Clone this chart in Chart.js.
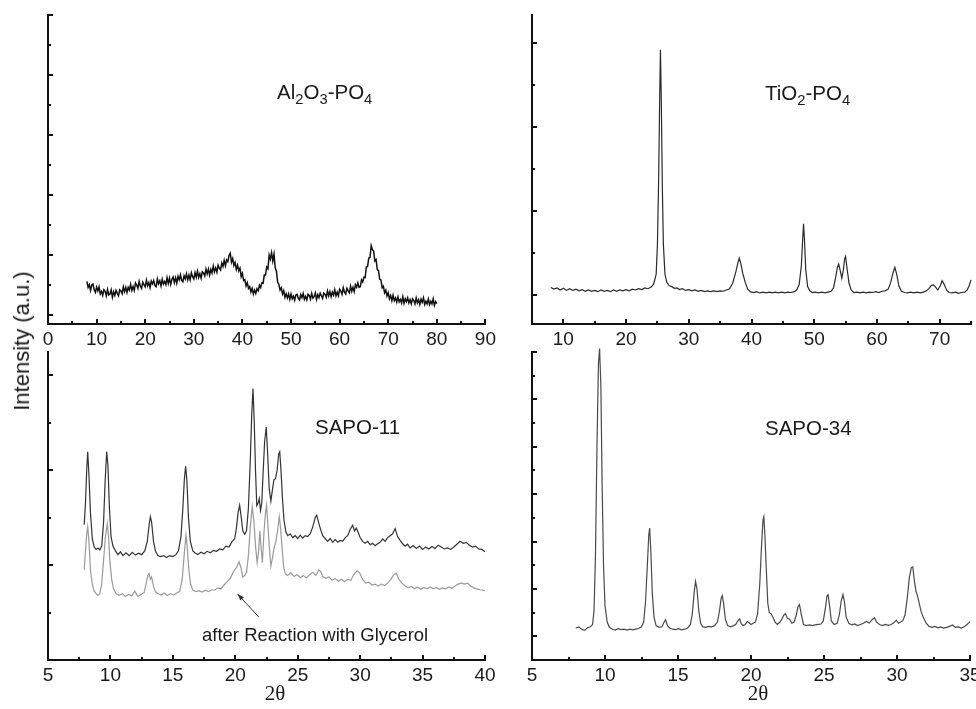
<!DOCTYPE html>
<html>
<head>
<meta charset="utf-8">
<title>XRD patterns</title>
<script src="https://cdn.jsdelivr.net/npm/chart.js@4.4.1/dist/chart.umd.min.js"></script>
<style>
  body { margin: 0; width: 976px; height: 709px; position: relative; overflow: hidden; background: #fff;
         font-family: "Liberation Sans", Arial, sans-serif; color: #1a1a1a; }
  canvas { position: absolute; }
  .lbl { position: absolute; white-space: nowrap; line-height: 1; }
  .lbl sub { font-size: 0.72em; vertical-align: -0.32em; line-height: 0; }
  .big { font-size: 20.5px; }
  .ylab { font-size: 22px; left: 22px; top: 341px; transform: translate(-50%, -50%) rotate(-90deg); }
  .xlab { font-family: "Liberation Serif", "Times New Roman", serif; font-size: 21px; transform: translateX(-50%); }
</style>
</head>
<body>
<canvas id="tl" width="500" height="352" style="left:0;top:0"></canvas>
<canvas id="tr" width="486" height="352" style="left:490px;top:0"></canvas>
<canvas id="bl" width="500" height="369" style="left:0;top:340px"></canvas>
<canvas id="br" width="500" height="369" style="left:490px;top:340px"></canvas>

<div class="lbl big" style="left:277px;top:82px">Al<sub>2</sub>O<sub>3</sub>-PO<sub>4</sub></div>
<div class="lbl big" style="left:765px;top:83px">TiO<sub>2</sub>-PO<sub>4</sub></div>
<div class="lbl big" style="left:315px;top:417px">SAPO-11</div>
<div class="lbl big" style="left:765px;top:418px">SAPO-34</div>
<div class="lbl" style="left:202px;top:626px;font-size:18.5px">after Reaction with Glycerol</div>
<div class="lbl ylab">Intensity (a.u.)</div>
<div class="lbl xlab" style="left:275px;top:683px">2θ</div>
<div class="lbl xlab" style="left:758px;top:683px">2θ</div>

<script>
// 2θ tick labels per panel
const tlTicks = [0, 10, 20, 30, 40, 50, 60, 70, 80, 90];
const trTicks = [10, 20, 30, 40, 50, 60, 70];
const blTicks = [5, 10, 15, 20, 25, 30, 35, 40];
const brTicks = [5, 10, 15, 20, 25, 30, 35];

// Al2O3-PO4  [2θ, intensity]  (noisy, amorphous-looking scan)
const alumPO4 = [
  [8,1.12],[8.25,0.92],[8.5,1.01],[8.75,0.82],[9,1.00],[9.25,1.03],[9.5,0.84],[9.75,0.75],
  [10,0.93],[10.25,0.80],[10.5,0.94],[10.75,0.70],[11,0.79],[11.25,0.65],[11.5,0.84],[11.75,0.79],
  [12,0.64],[12.25,0.85],[12.5,0.67],[12.75,0.70],[13,0.84],[13.25,0.59],[13.5,0.78],[13.75,0.65],
  [14,0.82],[14.25,0.72],[14.5,0.64],[14.75,0.84],[15,0.80],[15.25,0.71],[15.5,0.94],[15.75,0.78],
  [16,0.92],[16.25,0.75],[16.5,0.92],[16.75,0.83],[17,1.02],[17.25,0.82],[17.5,0.95],[17.75,0.82],
  [18,1.07],[18.25,1.00],[18.5,0.89],[18.75,1.12],[19,0.96],[19.25,0.89],[19.5,1.09],[19.75,1.01],
  [20,0.94],[20.25,1.16],[20.5,0.97],[20.75,1.08],[21,0.91],[21.25,1.13],[21.5,1.04],[21.75,1.15],
  [22,0.98],[22.25,0.94],[22.5,1.20],[22.75,1.04],[23,1.14],[23.25,0.97],[23.5,1.19],[23.75,1.03],
  [24,1.12],[24.25,1.01],[24.5,1.24],[24.75,1.05],[25,1.23],[25.25,1.02],[25.5,1.19],[25.75,1.27],
  [26,1.08],[26.25,1.24],[26.5,1.06],[26.75,1.29],[27,1.17],[27.25,1.34],[27.5,1.15],[27.75,1.11],
  [28,1.31],[28.25,1.20],[28.5,1.37],[28.75,1.17],[29,1.33],[29.25,1.17],[29.5,1.41],[29.75,1.28],
  [30,1.20],[30.25,1.41],[30.5,1.26],[30.75,1.46],[31,1.25],[31.25,1.38],[31.5,1.23],[31.75,1.44],
  [32,1.40],[32.25,1.30],[32.5,1.53],[32.75,1.37],[33,1.53],[33.25,1.33],[33.5,1.52],[33.75,1.40],
  [34,1.63],[34.25,1.44],[34.5,1.57],[34.75,1.43],[35,1.66],[35.25,1.56],[35.5,1.50],[35.75,1.73],
  [36,1.62],[36.25,1.82],[36.5,1.64],[36.75,1.84],[37,1.78],[37.25,1.98],[37.5,2.06],[37.75,1.76],
  [38,1.88],[38.25,1.65],[38.5,1.75],[38.75,1.52],[39,1.66],[39.25,1.47],[39.5,1.56],[39.75,1.28],
  [40,1.39],[40.25,1.15],[40.5,1.18],[40.75,0.97],[41,1.08],[41.25,0.89],[41.5,0.95],[41.75,0.77],
  [42,0.89],[42.25,0.70],[42.5,0.83],[42.75,0.72],[43,0.88],[43.25,0.81],[43.5,0.99],[43.75,0.91],
  [44,1.07],[44.25,1.06],[44.5,1.33],[44.75,1.33],[45,1.60],[45.25,1.54],[45.5,2.00],[45.75,1.86],
  [46,2.08],[46.25,1.80],[46.5,2.03],[46.75,1.57],[47,1.46],[47.25,1.10],[47.5,1.02],[47.75,0.83],
  [48,0.91],[48.25,0.70],[48.5,0.81],[48.75,0.59],[49,0.71],[49.25,0.57],[49.5,0.70],[49.75,0.52],
  [50,0.70],[50.25,0.54],[50.5,0.63],[50.75,0.49],[51,0.67],[51.25,0.69],[51.5,0.55],[51.75,0.50],
  [52,0.68],[52.25,0.58],[52.5,0.72],[52.75,0.52],[53,0.62],[53.25,0.50],[53.5,0.69],[53.75,0.65],
  [54,0.53],[54.25,0.72],[54.5,0.56],[54.75,0.61],[55,0.74],[55.25,0.52],[55.5,0.68],[55.75,0.58],
  [56,0.73],[56.25,0.64],[56.5,0.55],[56.75,0.73],[57,0.69],[57.25,0.59],[57.5,0.80],[57.75,0.64],
  [58,0.78],[58.25,0.61],[58.5,0.76],[58.75,0.66],[59,0.84],[59.25,0.64],[59.5,0.76],[59.75,0.64],
  [60,0.86],[60.25,0.80],[60.5,0.69],[60.75,0.91],[61,0.76],[61.25,0.70],[61.5,0.89],[61.75,0.81],
  [62,0.74],[62.25,0.96],[62.5,0.79],[62.75,0.92],[63,0.78],[63.25,1.01],[63.5,0.93],[63.75,1.07],
  [64,0.92],[64.25,0.94],[64.5,1.17],[64.75,1.10],[65,1.26],[65.25,1.25],[65.5,1.60],[65.75,1.62],
  [66,1.90],[66.25,1.92],[66.5,2.31],[66.75,2.18],[67,2.13],[67.25,1.80],[67.5,1.85],[67.75,1.51],
  [68,1.48],[68.25,1.19],[68.5,1.17],[68.75,0.91],[69,0.96],[69.25,0.74],[69.5,0.83],[69.75,0.63],
  [70,0.74],[70.25,0.54],[70.5,0.65],[70.75,0.48],[71,0.66],[71.25,0.48],[71.5,0.57],[71.75,0.43],
  [72,0.60],[72.25,0.44],[72.5,0.52],[72.75,0.40],[73,0.61],[73.25,0.39],[73.5,0.54],[73.75,0.44],
  [74,0.57],[74.25,0.40],[74.5,0.51],[74.75,0.37],[75,0.54],[75.25,0.48],[75.5,0.37],[75.75,0.57],
  [76,0.40],[76.25,0.51],[76.5,0.35],[76.75,0.53],[77,0.42],[77.25,0.57],[77.5,0.35],[77.75,0.46],
  [78,0.37],[78.25,0.53],[78.5,0.35],[78.75,0.46],[79,0.37],[79.25,0.54],[79.5,0.32],[79.75,0.45],
  [80,0.38]
];

// TiO2-PO4
const titPO4 = [
  [8,0.18],[8.5,0.14],[9,0.17],[9.5,0.12],[10,0.16],[10.5,0.11],[11,0.15],[11.5,0.11],[12,0.14],[12.5,0.10],
  [13,0.13],[13.5,0.09],[14,0.12],[14.5,0.09],[15,0.11],[15.5,0.08],[16,0.12],[16.5,0.09],[17,0.11],[17.5,0.08],
  [18,0.12],[18.5,0.09],[19,0.12],[19.5,0.10],[20,0.13],[20.5,0.10],[21,0.14],[21.5,0.12],[22,0.15],[22.5,0.13],
  [23,0.17],[23.5,0.15],[24,0.19],[24.4,0.26],[24.8,0.5],[25,1.2],[25.2,2.8],[25.35,4.6],[25.48,5.84],[25.62,4.6],
  [25.78,2.6],[25.95,1.2],[26.2,0.5],[26.5,0.3],[26.9,0.22],[27.3,0.2],[27.7,0.16],[28.1,0.17],[28.5,0.13],[29,0.15],
  [29.5,0.11],[30,0.13],[30.5,0.10],[31,0.12],[31.5,0.09],[32,0.11],[32.5,0.08],[33,0.10],[33.5,0.08],[34,0.10],
  [34.5,0.08],[35,0.10],[35.5,0.09],[36,0.12],[36.5,0.15],[37,0.28],[37.5,0.55],[37.85,0.78],[38.05,0.88],[38.3,0.75],
  [38.6,0.52],[39,0.3],[39.4,0.14],[39.8,0.08],[40.3,0.06],[40.8,0.08],[41.3,0.05],[41.8,0.07],[42.3,0.05],[42.8,0.07],
  [43.3,0.05],[43.8,0.07],[44.3,0.05],[44.8,0.07],[45.3,0.05],[45.8,0.07],[46.3,0.06],[46.8,0.08],[47.2,0.12],[47.6,0.25],
  [47.95,0.7],[48.15,1.3],[48.3,1.7],[48.45,1.3],[48.65,0.6],[48.95,0.2],[49.3,0.1],[49.7,0.06],[50.2,0.07],[50.7,0.05],
  [51.2,0.07],[51.7,0.05],[52.2,0.07],[52.7,0.09],[53.1,0.18],[53.45,0.45],[53.7,0.66],[53.9,0.74],[54.15,0.58],[54.4,0.4],
  [54.65,0.6],[54.85,0.86],[55.0,0.92],[55.25,0.62],[55.55,0.28],[55.9,0.12],[56.3,0.06],[56.8,0.07],[57.3,0.05],[57.8,0.07],
  [58.3,0.05],[58.8,0.07],[59.3,0.06],[59.8,0.08],[60.3,0.06],[60.8,0.09],[61.3,0.1],[61.8,0.14],[62.2,0.3],[62.55,0.52],
  [62.85,0.66],[63.15,0.5],[63.5,0.22],[63.9,0.09],[64.4,0.06],[64.9,0.05],[65.4,0.07],[65.9,0.05],[66.4,0.07],[66.9,0.05],
  [67.4,0.07],[67.9,0.1],[68.3,0.16],[68.7,0.23],[69,0.24],[69.3,0.2],[69.7,0.12],[70.1,0.22],[70.4,0.34],[70.7,0.26],
  [71.1,0.12],[71.5,0.06],[72,0.05],[72.5,0.07],[73,0.04],[73.5,0.06],[74,0.07],[74.4,0.12],[74.7,0.22],[75,0.36]
];

// SAPO-11 fresh (dark)
const sapo11 = [
  [7.9,2.85],[8.0,3.3],[8.1,4.0],[8.18,4.39],[8.28,3.9],[8.4,3.1],[8.55,2.55],[8.7,2.38],[8.85,2.33],[9.0,2.36],
  [9.15,2.32],[9.3,2.4],[9.45,2.9],[9.58,3.8],[9.7,4.39],[9.8,4.1],[9.92,3.2],[10.05,2.6],[10.2,2.4],[10.4,2.3],
  [10.6,2.22],[10.8,2.28],[11.0,2.2],[11.25,2.26],[11.5,2.2],[11.75,2.27],[12.0,2.21],[12.25,2.25],[12.5,2.22],[12.75,2.3],
  [12.95,2.5],[13.1,2.85],[13.2,3.02],[13.3,2.9],[13.45,2.5],[13.6,2.3],[13.8,2.2],[14.0,2.18],[14.25,2.2],[14.5,2.16],
  [14.75,2.2],[15.0,2.18],[15.25,2.22],[15.45,2.3],[15.65,2.6],[15.8,3.2],[15.92,3.8],[16.02,4.08],[16.12,3.8],[16.25,3.0],
  [16.4,2.5],[16.6,2.3],[16.8,2.25],[17.0,2.22],[17.25,2.27],[17.5,2.24],[17.75,2.29],[18.0,2.26],[18.25,2.31],[18.5,2.29],
  [18.75,2.34],[19.0,2.32],[19.25,2.4],[19.5,2.38],[19.75,2.5],[19.95,2.55],[20.1,2.8],[20.22,3.1],[20.35,3.26],[20.48,3.0],
  [20.6,2.72],[20.75,2.65],[20.9,2.72],[21.05,3.2],[21.2,4.2],[21.32,5.2],[21.42,5.72],[21.52,5.0],[21.62,4.0],[21.72,3.25],
  [21.82,3.3],[21.92,3.4],[22.02,3.15],[22.12,3.3],[22.22,3.9],[22.35,4.6],[22.48,4.91],[22.6,4.3],[22.72,3.6],[22.85,3.35],
  [22.98,3.6],[23.1,3.8],[23.22,3.82],[23.35,4.0],[23.48,4.35],[23.56,4.39],[23.66,4.0],[23.78,3.4],[23.9,2.95],[24.05,2.7],
  [24.2,2.62],[24.4,2.66],[24.6,2.58],[24.8,2.62],[25.0,2.56],[25.2,2.63],[25.4,2.57],[25.6,2.62],[25.8,2.6],[26.0,2.66],
  [26.2,2.8],[26.4,3.0],[26.52,3.05],[26.65,2.92],[26.8,2.78],[27.0,2.62],[27.2,2.56],[27.4,2.5],[27.6,2.56],[27.8,2.48],
  [28.0,2.54],[28.2,2.48],[28.4,2.52],[28.6,2.5],[28.8,2.58],[29.0,2.62],[29.2,2.75],[29.4,2.84],[29.55,2.72],[29.7,2.78],
  [29.85,2.68],[30.0,2.58],[30.2,2.5],[30.4,2.46],[30.6,2.5],[30.8,2.43],[31.0,2.46],[31.2,2.41],[31.4,2.45],[31.6,2.48],
  [31.8,2.55],[32.0,2.5],[32.2,2.58],[32.4,2.62],[32.6,2.66],[32.8,2.77],[33.0,2.6],[33.2,2.52],[33.4,2.45],[33.6,2.4],
  [33.8,2.44],[34.0,2.36],[34.25,2.41],[34.5,2.35],[34.75,2.4],[35.0,2.33],[35.25,2.38],[35.5,2.34],[35.75,2.39],[36.0,2.35],
  [36.25,2.42],[36.5,2.38],[36.75,2.34],[37.0,2.36],[37.25,2.33],[37.5,2.38],[37.75,2.44],[38.0,2.5],[38.25,2.46],[38.5,2.48],
  [38.75,2.42],[39.0,2.38],[39.25,2.4],[39.5,2.34],[39.75,2.33],[40.0,2.28]
];

// SAPO-11 after reaction with glycerol (light)
const sapo11Used = [
  [7.9,1.9],[8.0,2.3],[8.1,2.65],[8.18,2.81],[8.28,2.5],[8.4,1.9],[8.55,1.6],[8.7,1.45],[8.85,1.4],[9.0,1.36],
  [9.15,1.4],[9.3,1.6],[9.45,2.1],[9.6,2.6],[9.75,2.88],[9.85,2.6],[9.95,2.1],[10.1,1.7],[10.25,1.5],[10.45,1.4],
  [10.7,1.36],[10.95,1.4],[11.2,1.34],[11.45,1.38],[11.7,1.35],[11.95,1.45],[12.2,1.34],[12.45,1.38],[12.7,1.42],[12.85,1.6],
  [13.0,1.78],[13.1,1.82],[13.2,1.7],[13.3,1.75],[13.45,1.55],[13.6,1.44],[13.8,1.4],[14.05,1.37],[14.3,1.41],[14.55,1.36],
  [14.8,1.4],[15.05,1.37],[15.3,1.41],[15.55,1.45],[15.75,1.7],[15.9,2.2],[16.05,2.63],[16.15,2.4],[16.28,1.9],[16.42,1.6],
  [16.6,1.47],[16.85,1.44],[17.1,1.46],[17.35,1.43],[17.6,1.47],[17.85,1.44],[18.1,1.48],[18.35,1.47],[18.6,1.52],[18.85,1.5],
  [19.1,1.58],[19.35,1.65],[19.6,1.72],[19.85,1.86],[20.1,1.95],[20.3,2.07],[20.45,1.95],[20.6,1.75],[20.75,1.78],[20.9,1.85],
  [21.05,2.2],[21.2,2.8],[21.36,3.23],[21.5,2.9],[21.62,2.4],[21.75,2.05],[21.87,2.3],[21.97,2.72],[22.07,2.35],[22.17,2.05],
  [22.3,2.7],[22.42,3.1],[22.5,3.26],[22.6,2.9],[22.72,2.4],[22.85,1.98],[22.98,2.15],[23.1,2.35],[23.25,2.5],[23.4,2.75],
  [23.52,3.02],[23.62,2.8],[23.75,2.35],[23.88,1.95],[24.0,1.82],[24.2,1.78],[24.45,1.84],[24.7,1.76],[24.95,1.8],[25.2,1.74],
  [25.45,1.78],[25.7,1.73],[25.95,1.8],[26.2,1.85],[26.45,1.78],[26.7,1.9],[26.85,1.86],[27.0,1.76],[27.25,1.72],[27.5,1.75],
  [27.75,1.68],[28.0,1.72],[28.25,1.66],[28.5,1.7],[28.75,1.65],[29.0,1.7],[29.25,1.68],[29.5,1.8],[29.75,1.88],[29.95,1.84],
  [30.2,1.7],[30.45,1.62],[30.7,1.64],[30.95,1.58],[31.2,1.6],[31.45,1.56],[31.7,1.6],[31.95,1.57],[32.2,1.62],[32.45,1.7],
  [32.7,1.8],[32.9,1.83],[33.1,1.7],[33.35,1.62],[33.6,1.56],[33.85,1.52],[34.1,1.55],[34.35,1.5],[34.6,1.54],[34.85,1.49],
  [35.1,1.53],[35.35,1.5],[35.6,1.54],[35.85,1.5],[36.1,1.53],[36.35,1.49],[36.6,1.52],[36.85,1.5],[37.1,1.54],[37.35,1.51],
  [37.6,1.56],[37.85,1.6],[38.1,1.62],[38.35,1.6],[38.6,1.62],[38.85,1.56],[39.1,1.52],[39.35,1.5],[39.6,1.48],[39.85,1.47],
  [40.0,1.46]
];

// SAPO-34
const sapo34 = [
  [8.0,0.35],[8.2,0.4],[8.4,0.3],[8.6,0.25],[8.8,0.36],[9.0,0.4],[9.15,0.5],[9.25,1.1],[9.35,3.5],[9.45,8.0],
  [9.55,11.5],[9.63,12.15],[9.72,10.5],[9.8,6.5],[9.9,3.0],[10.0,1.3],[10.15,0.6],[10.3,0.38],[10.5,0.3],[10.7,0.26],
  [10.9,0.32],[11.1,0.28],[11.3,0.3],[11.5,0.26],[11.7,0.3],[11.9,0.27],[12.1,0.3],[12.3,0.33],[12.5,0.4],[12.65,0.6],
  [12.78,1.5],[12.9,3.0],[13.0,4.3],[13.06,4.57],[13.14,3.6],[13.24,1.8],[13.36,0.8],[13.5,0.45],[13.7,0.38],[13.9,0.4],
  [14.05,0.6],[14.15,0.7],[14.28,0.45],[14.45,0.34],[14.65,0.3],[14.85,0.28],[15.05,0.32],[15.25,0.27],[15.45,0.3],[15.65,0.34],
  [15.85,0.5],[15.98,0.95],[16.1,1.8],[16.2,2.32],[16.3,2.0],[16.42,1.1],[16.55,0.55],[16.7,0.4],[16.9,0.38],[17.1,0.42],
  [17.3,0.4],[17.5,0.45],[17.7,0.6],[17.85,1.1],[17.95,1.6],[18.03,1.72],[18.12,1.4],[18.25,0.7],[18.4,0.45],[18.6,0.4],
  [18.8,0.45],[18.95,0.5],[19.1,0.65],[19.22,0.73],[19.32,0.55],[19.45,0.45],[19.6,0.5],[19.75,0.62],[19.85,0.58],[20.0,0.5],
  [20.15,0.55],[20.3,0.6],[20.45,0.95],[20.6,2.2],[20.72,3.8],[20.82,4.9],[20.88,5.04],[20.95,4.3],[21.05,2.8],[21.15,1.4],
  [21.25,1.0],[21.38,0.95],[21.5,0.8],[21.65,0.6],[21.8,0.5],[21.95,0.58],[22.1,0.7],[22.25,0.9],[22.35,0.96],[22.5,0.75],
  [22.65,0.72],[22.8,0.55],[22.95,0.6],[23.1,0.9],[23.22,1.25],[23.32,1.34],[23.45,0.9],[23.6,0.5],[23.8,0.45],[24.0,0.48],
  [24.2,0.45],[24.4,0.48],[24.6,0.5],[24.8,0.52],[24.95,0.65],[25.1,1.2],[25.2,1.7],[25.28,1.76],[25.38,1.3],[25.5,0.65],
  [25.7,0.5],[25.9,0.55],[26.05,0.9],[26.18,1.5],[26.3,1.76],[26.4,1.45],[26.52,0.8],[26.7,0.55],[26.9,0.48],[27.1,0.52],
  [27.3,0.45],[27.5,0.5],[27.7,0.55],[27.9,0.63],[28.1,0.56],[28.3,0.7],[28.45,0.78],[28.6,0.6],[28.8,0.5],[29.0,0.45],
  [29.2,0.5],[29.4,0.46],[29.6,0.5],[29.8,0.58],[29.95,0.68],[30.1,0.55],[30.25,0.6],[30.4,0.66],[30.55,0.9],[30.7,1.6],
  [30.85,2.5],[30.98,2.9],[31.08,2.93],[31.18,2.4],[31.3,1.9],[31.4,1.72],[31.5,1.45],[31.65,1.05],[31.8,0.8],[32.0,0.55],
  [32.2,0.42],[32.4,0.38],[32.6,0.42],[32.8,0.36],[33.0,0.4],[33.2,0.35],[33.4,0.38],[33.6,0.42],[33.8,0.48],[34.0,0.38],
  [34.2,0.4],[34.4,0.35],[34.6,0.4],[34.8,0.5],[35.0,0.62]
];

Chart.defaults.font.family = '"Liberation Sans", Arial, sans-serif';
Chart.defaults.color = '#1a1a1a';

// short ticks pointing into the plot, like the original Origin figure
const inTicks = {
  id: 'inTicks',
  afterDraw(chart, args, o) {
    if (!o.xMajor) return;
    const { ctx, chartArea: a, scales: { x, y } } = chart;
    ctx.save();
    ctx.strokeStyle = '#111';
    ctx.lineWidth = 2;
    ctx.beginPath();
    const xt = (vals, len) => vals.forEach(v => {
      const p = Math.round(x.getPixelForValue(v));
      ctx.moveTo(p, a.bottom); ctx.lineTo(p, a.bottom - len);
    });
    const yt = (vals, len) => vals.forEach(v => {
      const p = Math.round(y.getPixelForValue(v));
      ctx.moveTo(a.left, p); ctx.lineTo(a.left + len, p);
    });
    xt(o.xMajor, 5); xt(o.xMinor, 3);
    yt(o.yMajor, 5); yt(o.yMinor, 3);
    ctx.stroke();
    ctx.restore();
  }
};
Chart.register(inTicks);

// arrow pointing at the used-catalyst trace
const glycerolArrow = {
  id: 'glycerolArrow',
  afterDraw(chart) {
    const { ctx, scales: { x, y } } = chart;
    const x1 = x.getPixelForValue(21.88), y1 = y.getPixelForValue(0.905);
    const x2 = x.getPixelForValue(20.19), y2 = y.getPixelForValue(1.39);
    const ang = Math.atan2(y2 - y1, x2 - x1);
    ctx.save();
    ctx.strokeStyle = '#333'; ctx.fillStyle = '#333'; ctx.lineWidth = 1;
    ctx.beginPath(); ctx.moveTo(x1, y1); ctx.lineTo(x2, y2); ctx.stroke();
    ctx.beginPath();
    ctx.moveTo(x2, y2);
    ctx.lineTo(x2 - 7 * Math.cos(ang - 0.35), y2 - 7 * Math.sin(ang - 0.35));
    ctx.lineTo(x2 - 7 * Math.cos(ang + 0.35), y2 - 7 * Math.sin(ang + 0.35));
    ctx.closePath(); ctx.fill();
    ctx.restore();
  }
};

function xrd(id, c) {
  return new Chart(document.getElementById(id), {
    type: 'line',
    data: {
      datasets: c.sets.map(s => ({
        data: s.data, borderColor: s.color, borderWidth: s.width,
        pointRadius: 0, tension: 0, clip: false
      }))
    },
    options: {
      responsive: false, animation: false, events: [],
      layout: { padding: c.pad },
      plugins: { legend: { display: false }, tooltip: { enabled: false }, inTicks: c.ticks },
      scales: {
        x: {
          type: 'linear', min: c.xMin, max: c.xMax,
          afterBuildTicks: s => { s.ticks = c.labels.map(v => ({ value: v })); },
          afterFit: s => { s.height = c.xH; },
          ticks: { font: { size: 19 }, color: '#1a1a1a', padding: 4, autoSkip: false, maxRotation: 0 },
          grid: { display: false, drawTicks: false },
          border: { display: true, color: '#111', width: 2 }
        },
        y: {
          min: c.yMin, max: c.yMax,
          afterFit: s => { s.width = c.yW; },
          ticks: { display: false },
          grid: { display: false, drawTicks: false },
          border: { display: true, color: '#111', width: 2 }
        }
      }
    },
    plugins: c.extra || []
  });
}

xrd('tl', {
  sets: [{ data: alumPO4, color: '#111', width: 1.5 }],
  xMin: 0, xMax: 90, yMin: -0.3, yMax: 10, labels: tlTicks,
  pad: { top: 15, right: 14, left: 0, bottom: 0 }, xH: 28, yW: 48,
  ticks: { xMajor: tlTicks, xMinor: [5, 15, 25, 35, 45, 55, 65, 75, 85], yMajor: [0, 2, 4, 6, 8, 10], yMinor: [1, 3, 5, 7, 9] }
});

xrd('tr', {
  sets: [{ data: titPO4, color: '#2a2a2a', width: 1.2 }],
  xMin: 5, xMax: 75, yMin: -0.69, yMax: 6.67, labels: trTicks,
  pad: { top: 15, right: 5, left: 0, bottom: 0 }, xH: 28, yW: 42,
  ticks: { xMajor: trTicks, xMinor: [15, 25, 35, 45, 55, 65, 75], yMajor: [0, 2, 4, 6], yMinor: [1, 3, 5] }
});

xrd('bl', {
  sets: [
    { data: sapo11, color: '#333', width: 1.2 },
    { data: sapo11Used, color: '#9a9a9a', width: 1.2 }
  ],
  xMin: 5, xMax: 40, yMin: 0, yMax: 6.49, labels: blTicks,
  pad: { top: 12, right: 15, left: 0, bottom: 0 }, xH: 49, yW: 48,
  ticks: { xMajor: blTicks, xMinor: [7.5, 12.5, 17.5, 22.5, 27.5, 32.5, 37.5], yMajor: [2, 4, 6], yMinor: [1, 3, 5] },
  extra: [glycerolArrow]
});

xrd('br', {
  sets: [{ data: sapo34, color: '#4a4a4a', width: 1.2 }],
  xMin: 5, xMax: 35, yMin: -1, yMax: 12, labels: brTicks,
  pad: { top: 12, right: 20, left: 0, bottom: 0 }, xH: 49, yW: 42,
  ticks: { xMajor: brTicks, xMinor: [7.5, 12.5, 17.5, 22.5, 27.5, 32.5], yMajor: [0, 2, 4, 6, 8, 10, 12], yMinor: [1, 3, 5, 7, 9, 11] }
});
</script>
</body>
</html>
